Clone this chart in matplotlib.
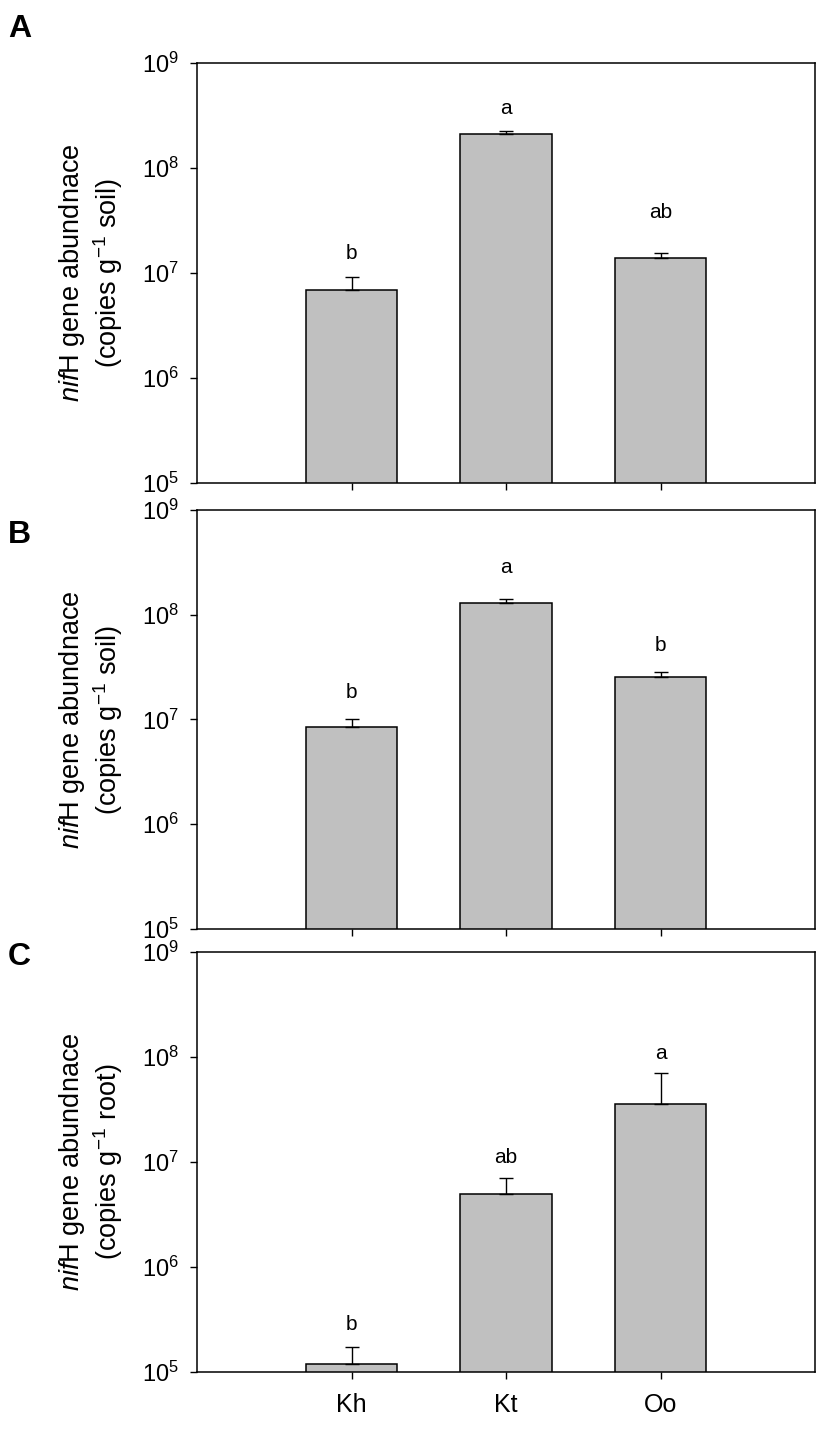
import numpy as np
import matplotlib
matplotlib.use('Agg')
import matplotlib.pyplot as plt

plt.rcParams['font.family'] = ['Liberation Sans', 'DejaVu Sans']
plt.rcParams['mathtext.fontset'] = 'custom'
plt.rcParams['mathtext.rm'] = 'Liberation Sans'
plt.rcParams['mathtext.it'] = 'Liberation Sans:italic'
plt.rcParams['mathtext.bf'] = 'Liberation Sans:bold'

# sites
sites = ['Kh', 'Kt', 'Oo']

# mean nifH copies and upper standard error per panel
soil_a_mean = [6.9e6, 2.1e8, 1.39e7]
soil_a_se = [2.3e6, 1.5e7, 1.6e6]
soil_a_letters = ['b', 'a', 'ab']

soil_b_mean = [8.5e6, 1.29e8, 2.55e7]
soil_b_se = [1.6e6, 1.2e7, 2.9e6]
soil_b_letters = ['b', 'a', 'b']

root_c_mean = [1.19e5, 4.95e6, 3.56e7]
root_c_se = [5.4e4, 2.05e6, 3.44e7]
root_c_letters = ['b', 'ab', 'a']

panel_names = ['A', 'B', 'C']
units = ['soil', 'soil', 'root']

fig = plt.figure(figsize=(8.39, 14.31), dpi=100)
W, H = 839.0, 1431.0

# axes boxes in pixels: (top, bottom)
boxes = [(63, 483), (510, 929), (952, 1372)]
left_px, right_px = 197, 815
letter_y = [29, 535, 957]
# extra offset (points) of the significance letters above the error bar
letter_off = [[17, 16, 29], [19, 23, 19], [16, 15, 14]]

panels = [(soil_a_mean, soil_a_se, soil_a_letters),
          (soil_b_mean, soil_b_se, soil_b_letters),
          (root_c_mean, root_c_se, root_c_letters)]

x = np.arange(1, len(sites) + 1)

for i, (mean, se, letters) in enumerate(panels):
    top, bot = boxes[i]
    ax = fig.add_axes([left_px / W, 1 - bot / H, (right_px - left_px) / W, (bot - top) / H])
    ax.set_yscale('log')
    ax.bar(x, mean, width=0.59, color='#c0c0c0', edgecolor='black', linewidth=1.1, zorder=2)
    ax.errorbar(x, mean, yerr=[np.zeros(len(mean)), se], fmt='none', ecolor='black',
                elinewidth=1.0, capsize=4.7, capthick=1.0, zorder=3)
    for xi, m, s, lab, off in zip(x, mean, se, letters, letter_off[i]):
        ax.annotate(lab, (xi, m + s), xytext=(0, off), textcoords='offset points',
                    ha='center', va='center', fontsize=15)
    ax.set_xlim(0, 4)
    ax.set_ylim(1e5, 1e9)
    ax.set_yticks([1e5, 1e6, 1e7, 1e8, 1e9])
    ax.yaxis.set_minor_locator(matplotlib.ticker.NullLocator())
    ax.set_xticks(x)
    if i == 2:
        ax.set_xticklabels(sites, fontsize=18)
    else:
        ax.set_xticklabels([])
    ax.tick_params(axis='y', direction='out', length=5, width=1, labelsize=17, pad=8)
    ax.tick_params(axis='x', direction='out', length=5, width=1, pad=10)
    for sp in ax.spines.values():
        sp.set_linewidth(1.1)

    cy = 1 - (top + bot) / 2 / H
    fig.text(72 / W, cy, r'$\it{nif}$H gene abundnace', rotation=90,
             ha='center', va='center', fontsize=19.5)
    fig.text(108 / W, cy, r'(copies g$^{-1}$ ' + units[i] + ')', rotation=90,
             ha='center', va='center', fontsize=19.5)
    fig.text(8 / W, 1 - letter_y[i] / H, panel_names[i], fontsize=23,
             fontweight='bold', ha='left', va='center')

fig.savefig('out.png', dpi=100)
